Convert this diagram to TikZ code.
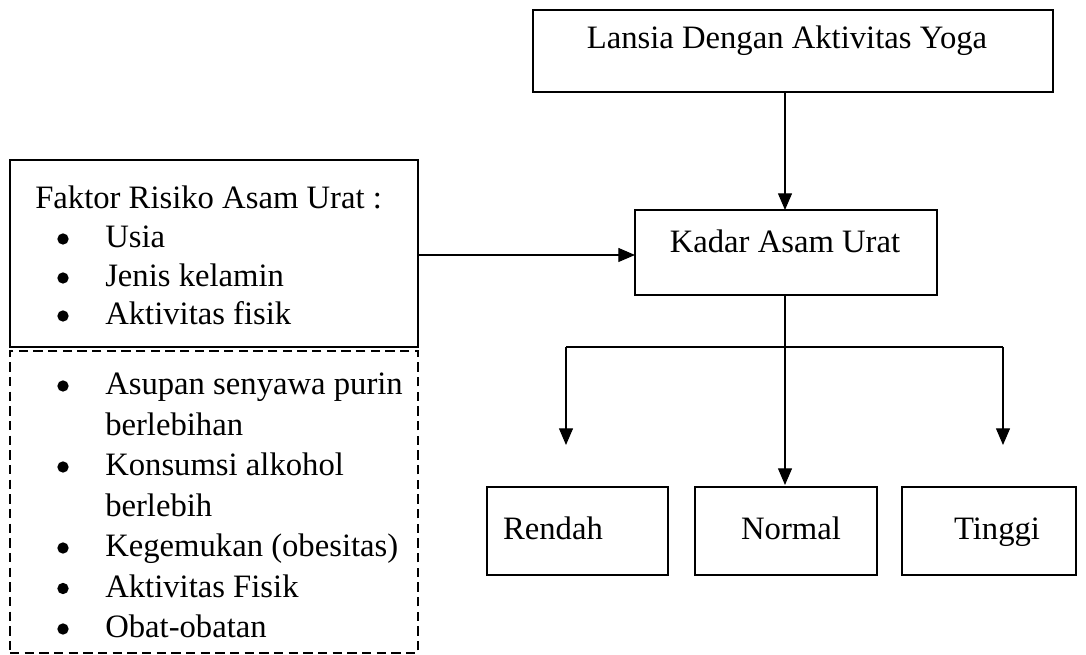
\documentclass[tikz,border=0pt]{standalone}
\usepackage{fontspec}
\setmainfont{Liberation Serif}
\usetikzlibrary{arrows.meta}
\begin{document}
\begin{tikzpicture}[x=0.75pt,y=-0.75pt,
  box/.style={draw,line width=1.4pt,inner sep=0pt,outer sep=0pt},
  dbox/.style={box,dash pattern=on 7pt off 4pt},
  conn/.style={line width=0.8pt},
  arr/.style={conn,-{Triangle[length=12.5pt,width=10.5pt]}},
  txt/.style={inner sep=0pt,anchor=base west,font=\fontsize{24.5}{30}\selectfont},
  ctxt/.style={txt,anchor=base},
  bul/.style={circle,fill,inner sep=0pt,minimum size=8.5pt},
]
\useasboundingbox (0,0) rectangle (1086,655);
% boxes
\node[box,minimum width=390pt,minimum height=61.5pt] (top) at (793,51) {};
\node[box,minimum width=226.5pt,minimum height=63.75pt] (kadar) at (786,252.5) {};
\node[box,minimum width=306pt,minimum height=140.25pt] (faktor) at (214,253.5) {};
\node[dbox,minimum width=306pt,minimum height=226.5pt] (lain) at (214,502) {};
\node[box,minimum width=135.75pt,minimum height=66pt] (rendah) at (577.5,531) {};
\node[box,minimum width=136.5pt,minimum height=66pt] (normal) at (786,531) {};
\node[box,minimum width=130.5pt,minimum height=66pt] (tinggi) at (989,531) {};
% texts
\node[ctxt] (ttop) at (787,49) {Lansia Dengan Aktivitas Yoga};
\node[ctxt] (tkadar) at (785,253) {Kadar Asam Urat};
\node[ctxt] (trendah) at (553,540) {Rendah};
\node[ctxt] (tnormal) at (791,540) {Normal};
\node[ctxt] (ttinggi) at (997,540) {Tinggi};
\node[txt] (f0) at (35,209) {Faktor Risiko Asam Urat :};
\foreach \y/\t [count=\i] in {248/Usia,287/Jenis kelamin,325/Aktivitas fisik}{
  \node[bul] (fb\i) at (63,\y-9) {};
  \node[txt] (ft\i) at (105,\y) {\t};
}
\foreach \y/\t [count=\i] in {395/Asupan senyawa purin,476/Konsumsi alkohol,557/Kegemukan (obesitas),597.5/Aktivitas Fisik,638/Obat-obatan}{
  \node[bul] (lb\i) at (63,\y-9) {};
  \node[txt] (lt\i) at (105,\y) {\t};
}
\node[txt] (lc1) at (105,435.5) {berlebihan};
\node[txt] (lc2) at (105,516.5) {berlebih};
% connectors
\coordinate (jl) at (566,347);
\coordinate (jr) at (1003,347);
\coordinate (el) at (566,445);
\coordinate (er) at (1003,445);
\coordinate (em) at (785,485);
\draw[arr] (top.south -| 785,0) -- (kadar.north -| 785,0);
\draw[arr] (faktor.east |- 0,255) -- (kadar.west |- 0,255);
\draw[arr] (kadar.south -| 785,0) -- (em);
\draw[conn] (jl) -- (jr);
\draw[arr] (jl) -- (el);
\draw[arr] (jr) -- (er);
\end{tikzpicture}
\end{document}
